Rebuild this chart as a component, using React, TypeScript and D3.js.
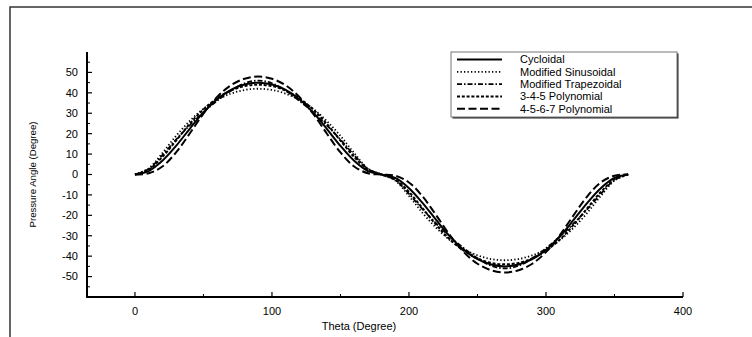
import React from "react";
import * as d3 from "d3";

// Cam follower pressure angle over one revolution (rise 0–180°, return 180–360°)
const theta = [
  0, 10, 20, 30, 40, 50, 60, 70, 80, 90, 100, 110, 120, 130, 140, 150, 160, 170, 180,
  190, 200, 210, 220, 230, 240, 250, 260, 270, 280, 290, 300, 310, 320, 330, 340, 350, 360,
];

const cycloidal = [
  0, 1.7, 6.7, 14.0, 22.4, 30.4, 36.9, 41.5, 44.1, 45.0, 44.1, 41.5, 36.9, 30.4, 22.4, 14.0, 6.7, 1.7, 0,
  -1.7, -6.7, -14.0, -22.4, -30.4, -36.9, -41.5, -44.1, -45.0, -44.1, -41.5, -36.9, -30.4, -22.4, -14.0, -6.7, -1.7, 0,
];

const modifiedSine = [
  0, 3.0, 10.5, 18.9, 26.2, 32.2, 36.6, 39.6, 41.4, 42.0, 41.4, 39.6, 36.6, 32.2, 26.2, 18.9, 10.5, 3.0, 0,
  -3.0, -10.5, -18.9, -26.2, -32.2, -36.6, -39.6, -41.4, -42.0, -41.4, -39.6, -36.6, -32.2, -26.2, -18.9, -10.5, -3.0, 0,
];

const modifiedTrap = [
  0, 2.7, 9.5, 17.1, 24.1, 30.5, 36.1, 41.0, 44.7, 46.0, 44.7, 41.0, 36.1, 30.5, 24.1, 17.1, 9.5, 2.7, 0,
  -2.7, -9.5, -17.1, -24.1, -30.5, -36.1, -41.0, -44.7, -46.0, -44.7, -41.0, -36.1, -30.5, -24.1, -17.1, -9.5, -2.7, 0,
];

const poly345 = [
  0, 2.4, 8.6, 16.6, 24.8, 31.9, 37.3, 41.1, 43.3, 44.0, 43.3, 41.1, 37.3, 31.9, 24.8, 16.6, 8.6, 2.4, 0,
  -2.4, -8.6, -16.6, -24.8, -31.9, -37.3, -41.1, -43.3, -44.0, -43.3, -41.1, -37.3, -31.9, -24.8, -16.6, -8.6, -2.4, 0,
];

const poly4567 = [
  0, 0.6, 3.9, 10.8, 20.1, 29.8, 38.0, 43.7, 46.9, 48.0, 46.9, 43.7, 38.0, 29.8, 20.1, 10.8, 3.9, 0.6, 0,
  -0.6, -3.9, -10.8, -20.1, -29.8, -38.0, -43.7, -46.9, -48.0, -46.9, -43.7, -38.0, -29.8, -20.1, -10.8, -3.9, -0.6, 0,
];

const seriesNames = [
  "Cycloidal",
  "Modified Sinusoidal",
  "Modified Trapezoidal",
  "3-4-5 Polynomial",
  "4-5-6-7 Polynomial",
];
const seriesValues = [cycloidal, modifiedSine, modifiedTrap, poly345, poly4567];
const seriesDash = ["", "1.3,2.2", "5,2,1.5,2", "3,1.8", "8,3.5"];
const seriesWidth = [2, 1.8, 1.8, 2, 2];

const xTicks = [0, 100, 200, 300, 400];
const xMinor = [50, 150, 250, 350];
const yTicks = [-50, -40, -30, -20, -10, 0, 10, 20, 30, 40, 50];
const yMinor = [-55, -45, -35, -25, -15, -5, 5, 15, 25, 35, 45, 55];

const W = 752;
const H = 337;
const FONT = "'Liberation Sans', Arial, sans-serif";

export default function App() {
  const x = d3.scaleLinear().domain([-35, 400]).range([87, 683]);
  const y = d3.scaleLinear().domain([-60, 60]).range([297, 52]);

  const line = d3
    .line<[number, number]>()
    .x((d) => x(d[0]))
    .y((d) => y(d[1]))
    .curve(d3.curveCatmullRom.alpha(0.5));

  const x0 = x.range()[0];
  const y0 = y.range()[0];

  const legendX = 451;
  const legendY = 52;
  const legendW = 226;
  const legendH = 65;
  const rowGap = 12.3;

  return (
    <svg
      width={W}
      height={H}
      style={{ position: "absolute", left: 0, top: 0, background: "#fff" }}
      fontFamily={FONT}
    >
      {/* outer frame */}
      <path d={`M10,${H + 2} L10,7 L${W + 2},7`} fill="none" stroke="#333" strokeWidth={1.5} />

      {/* curves */}
      {seriesValues.map((vals, i) => (
        <path
          key={seriesNames[i]}
          d={line(theta.map((t, j) => [t, vals[j]] as [number, number])) || ""}
          fill="none"
          stroke="#000"
          strokeWidth={seriesWidth[i]}
          strokeDasharray={seriesDash[i] || undefined}
        />
      ))}

      {/* y axis */}
      <line x1={x0} x2={x0} y1={y.range()[1]} y2={y0 + 1} stroke="#000" strokeWidth={2} />
      {yTicks.map((v) => (
        <g key={"yt" + v}>
          <line x1={x0} x2={x0 + 5} y1={y(v)} y2={y(v)} stroke="#000" strokeWidth={1.2} />
          <text x={x0 - 9} y={y(v)} dy="0.35em" textAnchor="end" fontSize={11}>
            {v}
          </text>
        </g>
      ))}
      {yMinor.map((v) => (
        <line key={"ym" + v} x1={x0} x2={x0 + 3} y1={y(v)} y2={y(v)} stroke="#000" strokeWidth={1} />
      ))}

      {/* x axis */}
      <line x1={x0 - 1} x2={x.range()[1]} y1={y0} y2={y0} stroke="#000" strokeWidth={2} />
      {xTicks.map((v) => (
        <g key={"xt" + v}>
          <line x1={x(v)} x2={x(v)} y1={y0} y2={y0 - 5} stroke="#000" strokeWidth={1.2} />
          <text x={x(v)} y={y0 + 18} textAnchor="middle" fontSize={11}>
            {v}
          </text>
        </g>
      ))}
      {xMinor.map((v) => (
        <line key={"xm" + v} x1={x(v)} x2={x(v)} y1={y0} y2={y0 - 3} stroke="#000" strokeWidth={1} />
      ))}

      {/* axis titles */}
      <text x={(x(0) + x(400)) / 2 - 50} y={330} textAnchor="middle" fontSize={11}>
        Theta (Degree)
      </text>
      <text
        transform={`translate(36,${(y(60) + y(-60)) / 2}) rotate(-90)`}
        textAnchor="middle"
        fontSize={9}
        textLength={106}
        lengthAdjust="spacingAndGlyphs"
      >
        Pressure Angle (Degree)
      </text>

      {/* legend */}
      <rect x={legendX + 1.5} y={legendY + 1.5} width={legendW} height={legendH} fill="#222" />
      <rect x={legendX} y={legendY} width={legendW} height={legendH} fill="#fff" stroke="#777" strokeWidth={1} />
      {seriesNames.map((name, i) => {
        const ry = legendY + 7.5 + i * rowGap;
        return (
          <g key={"lg" + name}>
            <line
              x1={legendX + 6}
              x2={legendX + 51}
              y1={ry}
              y2={ry}
              stroke="#000"
              strokeWidth={seriesWidth[i]}
              strokeDasharray={seriesDash[i] || undefined}
            />
            <text x={legendX + 69} y={ry} dy="0.35em" fontSize={11}>
              {name}
            </text>
          </g>
        );
      })}
    </svg>
  );
}
